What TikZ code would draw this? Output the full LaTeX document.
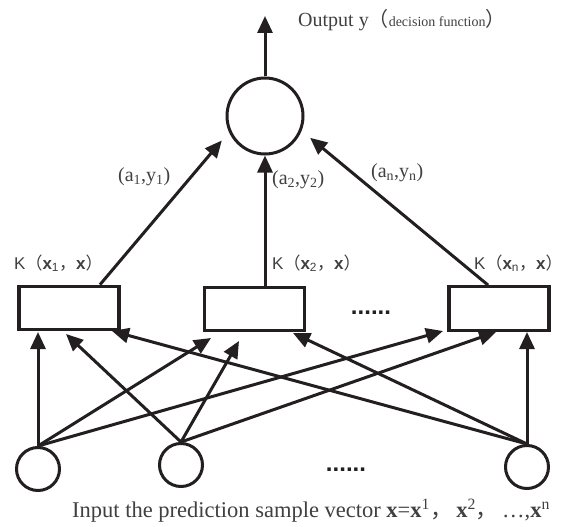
\documentclass[tikz,border=0pt]{standalone}
\usepackage{fontspec}
\setmainfont{Liberation Serif}
\setsansfont{Liberation Sans}
\newfontfamily\cjk{Noto Sans CJK SC}
\usetikzlibrary{arrows.meta,calc}
\definecolor{ink}{HTML}{231F20}
\definecolor{txt}{HTML}{404040}
\tikzset{
  conn/.style={draw=ink, line width=3pt, -{Triangle[length=17pt,width=15pt]}},
  bigc/.style={circle, draw=ink, line width=3pt, minimum size=76pt, inner sep=0pt},
  smallc/.style={circle, draw=ink, line width=3pt, minimum size=43pt, inner sep=0pt},
  kbox/.style={rectangle, draw=ink, line width=3.2pt, minimum width=100pt, minimum height=43.5pt, inner sep=0pt},
  lbl/.style={text=txt, inner sep=0pt},
  dots/.style={text=ink, inner sep=0pt, anchor=base, font=\sffamily\bfseries\fontsize{24}{24}\selectfont}
}
\begin{document}
\begin{tikzpicture}[x=1pt,y=-1pt]
\useasboundingbox (0,0) rectangle (568,527);
\fill[white] (0,0) rectangle (568,527);
\clip (0,0) rectangle (568,527);

% output neuron
\node[bigc] (top) at (265,116) {};
\coordinate (out) at (265,16);
\draw[conn] (top) -- (out);
\node[lbl, anchor=base west, font=\fontsize{20}{20}\selectfont] (outlbl) at (298,27)
  {Output y{\cjk （}{\fontsize{14}{14}\selectfont decision function}{\cjk ）}};

% kernel boxes
\node[kbox] (b1) at (69,308) {};
\node[kbox] (b2) at (254.5,309) {};
\node[kbox] (b3) at (499,308.5) {};
\node[dots] (mdots) at (371,314) {......};

% input neurons
\node[smallc] (c1) at (38,469) {};
\node[smallc] (c2) at (181,465) {};
\node[smallc] (c3) at (527,467) {};
\node[dots] (bdots) at (346,471) {......};

% kernels to output
\draw[conn, shorten >=11pt] (b1.37) -- (top.204);
\draw[conn] (top |- b2.north) -- (top.south);
\draw[conn, shorten >=11pt] (b3.115) -- (top.338);

% weight labels
\node[lbl, anchor=west, font=\fontsize{20}{20}\selectfont] (w1) at (118,177) {(a\textsubscript{1},y\textsubscript{1})};
\node[lbl, anchor=west, font=\fontsize{20}{20}\selectfont] (w2) at (272,180) {(a\textsubscript{2},y\textsubscript{2})};
\node[lbl, anchor=west, font=\fontsize{20}{20}\selectfont] (wn) at (371,173) {(a\textsubscript{n},y\textsubscript{n})};

% kernel labels
\node[lbl, anchor=base west, font=\sffamily\fontsize{17}{17}\selectfont] (k1) at (14,269)
  {K{\cjk （}\textbf{x}\textsubscript{1}{\cjk ，}\textbf{x}{\cjk ）}};
\node[lbl, anchor=base west, font=\sffamily\fontsize{17}{17}\selectfont] (k2) at (272,269)
  {K{\cjk （}\textbf{x}\textsubscript{2}{\cjk ，}\textbf{x}{\cjk ）}};
\node[lbl, anchor=base west, font=\sffamily\fontsize{17}{17}\selectfont] (kn) at (474,269)
  {K{\cjk （}\textbf{x}\textsubscript{n}{\cjk ，}\textbf{x}{\cjk ）}};

% tips of input connectors
\coordinate (t11) at (38,332);
\coordinate (t12) at (211,338);
\coordinate (t13) at (443,331);
\coordinate (t21) at (66,334);
\coordinate (t22) at (239,341);
\coordinate (t23) at (496,332);
\coordinate (t31) at (112,331);
\coordinate (t32) at (293,333);
\coordinate (t33) at (527,332);

\draw[conn] (c1.north) -- (t11);
\draw[conn] (c1.north) -- (t12);
\draw[conn] (c1.north) -- (t13);
\draw[conn] (c2.north) -- (t21);
\draw[conn] (c2.north) -- (t22);
\draw[conn] (c2.north) -- (t23);
\draw[conn] (c3.north) -- (t31);
\draw[conn] (c3.north) -- (t32);
\draw[conn] (c3.north) -- (t33);

% input caption
\node[lbl, anchor=base west, font=\fontsize{22.5}{22.5}\selectfont] (cap) at (72,517)
  {Input the prediction sample vector \textbf{x}=\textbf{x}\textsuperscript{1}{\cjk ，}\,\textbf{x}\textsuperscript{2}{\cjk ，}\,\dots,\textbf{x}\textsuperscript{n}};
\end{tikzpicture}
\end{document}
